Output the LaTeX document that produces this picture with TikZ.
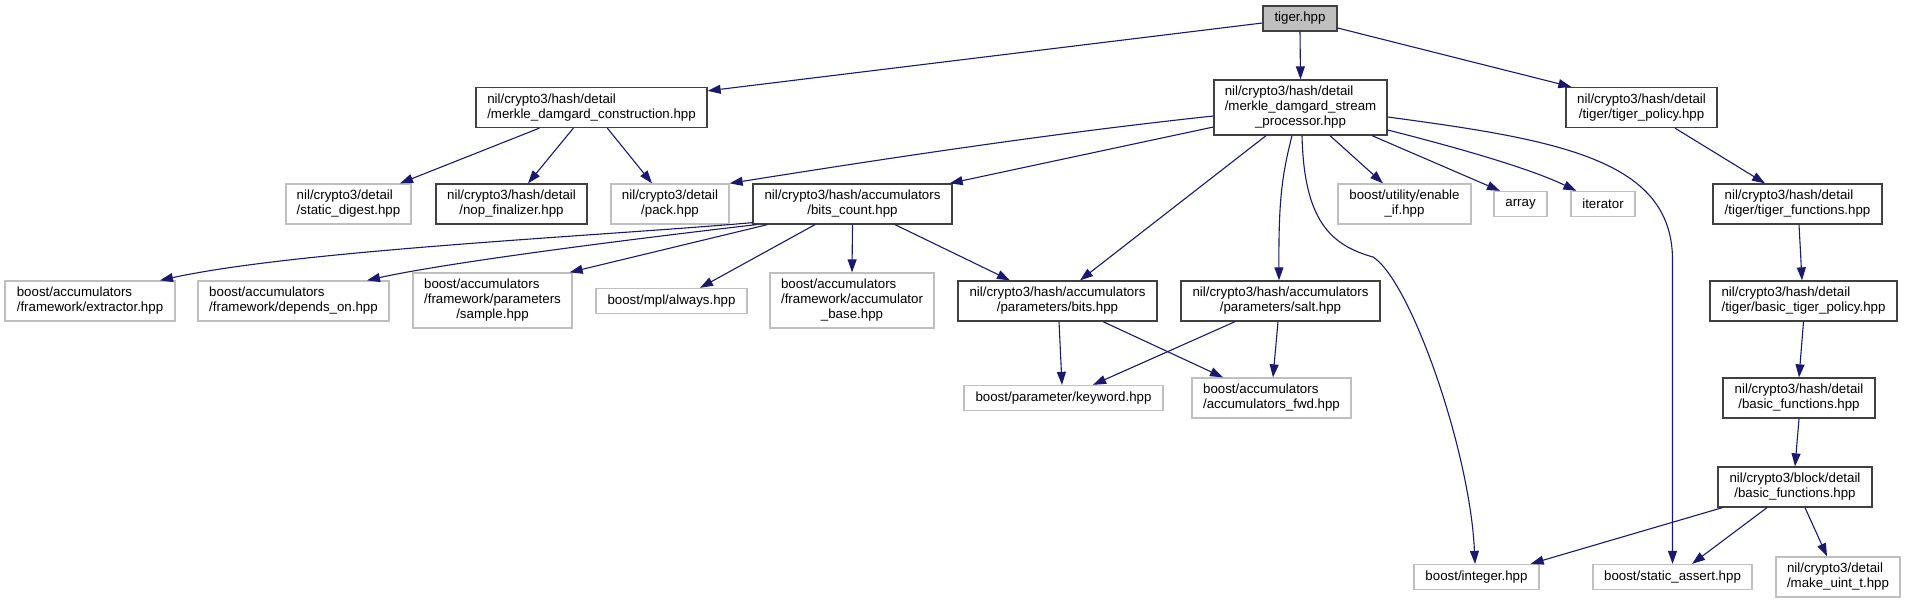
\documentclass[tikz,border=0pt]{standalone}
\usepackage{fontspec}
\setmainfont{Liberation Sans}
\usetikzlibrary{arrows.meta}
\definecolor{edgeblue}{HTML}{191970}
\definecolor{docgray}{HTML}{404040}
\definecolor{extgray}{HTML}{BFBFBF}
\newcommand{\twol}[2]{\begin{tabular}{@{}l@{}}#1\\\multicolumn{1}{@{}c@{}}{#2}\end{tabular}}
\newcommand{\threel}[3]{\begin{tabular}{@{}l@{}}#1\\#2\\\multicolumn{1}{@{}c@{}}{#3}\end{tabular}}
\begin{document}
\begin{tikzpicture}[x=1pt,y=1pt,
  font=\fontsize{13.3}{15}\selectfont,
  box/.style={draw, rectangle, inner sep=0pt, line width=1.3pt, fill=white},
  doc/.style={box, draw=docgray},
  ext/.style={box, draw=extgray},
  root/.style={box, draw=docgray, fill=extgray},
  sz/.style 2 args={minimum width=#1pt, minimum height=#2pt},
  dep/.style={draw=edgeblue, line width=1.1pt, -{Triangle[length=13pt,width=9pt]}}]
\fill[white, use as bounding box] (0,0) rectangle (1905,-603);

% ---- nodes ----
\node[root, sz={74}{25}] (tiger) at (1300,-18.5) {tiger.hpp};
\node[doc, sz={231}{40}] (mdc) at (591.5,-107.5) {\twol{nil/crypto3/hash/detail}{/merkle\_damgard\_construction.hpp}};
\node[doc, sz={173}{55}] (mdsp) at (1300.5,-107.5) {\threel{nil/crypto3/hash/detail}{/merkle\_damgard\_stream}{\_processor.hpp}};
\node[doc, sz={151}{40}] (tpol) at (1641.5,-107.5) {\twol{nil/crypto3/hash/detail}{/tiger/tiger\_policy.hpp}};
\node[ext, sz={125}{40}] (sdig) at (348.5,-204) {\twol{nil/crypto3/detail}{/static\_digest.hpp}};
\node[doc, sz={151}{40}] (nop) at (511.5,-204) {\twol{nil/crypto3/hash/detail}{/nop\_finalizer.hpp}};
\node[ext, sz={118}{40}] (pack) at (670,-204) {\twol{nil/crypto3/detail}{/pack.hpp}};
\node[doc, sz={199}{40}] (bcount) at (852.5,-204) {\twol{nil/crypto3/hash/accumulators}{/bits\_count.hpp}};
\node[ext, sz={133}{40}] (enif) at (1404.5,-204) {\twol{boost/utility/enable}{\_if.hpp}};
\node[ext, sz={53}{25}] (array) at (1520.5,-204) {array};
\node[ext, sz={64}{25}] (iter) at (1603,-204) {iterator};
\node[doc, sz={169}{40}] (tfun) at (1797.5,-204) {\twol{nil/crypto3/hash/detail}{/tiger/tiger\_functions.hpp}};
\node[ext, sz={170}{40}] (extr) at (90,-301) {\twol{boost/accumulators}{/framework/extractor.hpp}};
\node[ext, sz={191}{40}] (depon) at (293.5,-301) {\twol{boost/accumulators}{/framework/depends\_on.hpp}};
\node[ext, sz={159}{55}] (sample) at (492.5,-300.5) {\threel{boost/accumulators}{/framework/parameters}{/sample.hpp}};
\node[ext, sz={151}{25}] (mpl) at (671.5,-301) {boost/mpl/always.hpp};
\node[ext, sz={164}{55}] (accbase) at (852,-300.5) {\threel{boost/accumulators}{/framework/accumulator}{\_base.hpp}};
\node[doc, sz={199}{40}] (bits) at (1057.5,-301) {\twol{nil/crypto3/hash/accumulators}{/parameters/bits.hpp}};
\node[doc, sz={199}{40}] (salt) at (1280.5,-301) {\twol{nil/crypto3/hash/accumulators}{/parameters/salt.hpp}};
\node[doc, sz={187}{40}] (btp) at (1803.5,-301) {\twol{nil/crypto3/hash/detail}{/tiger/basic\_tiger\_policy.hpp}};
\node[ext, sz={199}{25}] (keyword) at (1063.5,-398) {boost/parameter/keyword.hpp};
\node[ext, sz={159}{40}] (accfwd) at (1271.5,-398) {\twol{boost/accumulators}{/accumulators\_fwd.hpp}};
\node[doc, sz={152}{40}] (hbf) at (1799,-398) {\twol{nil/crypto3/hash/detail}{/basic\_functions.hpp}};
\node[doc, sz={154}{40}] (bbf) at (1795,-487) {\twol{nil/crypto3/block/detail}{/basic\_functions.hpp}};
\node[ext, sz={125}{25}] (integer) at (1476.5,-577) {boost/integer.hpp};
\node[ext, sz={159}{25}] (sassert) at (1672.5,-577) {boost/static\_assert.hpp};
\node[ext, sz={124}{40}] (mkuint) at (1838,-577) {\twol{nil/crypto3/detail}{/make\_uint\_t.hpp}};

% ---- edges ----
\draw[dep] ([yshift=-4.5pt]tiger.west) -- ([yshift=-4pt]mdc.north east);
\draw[dep] (tiger.south) -- (mdsp.north);
\draw[dep] ([yshift=-9.5pt]tiger.east) -- ([xshift=6pt]tpol.north west);

\draw[dep] ([xshift=64pt]mdc.south west) -- ([xshift=51.5pt]sdig.north);
\draw[dep] ([xshift=98pt]mdc.south west) -- ([xshift=16.5pt]nop.north);
\draw[dep] ([xshift=132pt]mdc.south west) -- ([xshift=-18pt]pack.north);

\draw[dep] ([yshift=-8.5pt]mdsp.west) .. controls (1054,-133) and (889,-158) .. (pack.north east);
\draw[dep] ([yshift=-19.5pt]mdsp.west) -- ([xshift=-3pt]bcount.north east);
\draw[dep] ([xshift=-34.5pt]mdsp.south) -- ([xshift=22.5pt]bits.north);
\draw[dep] ([xshift=-8.5pt]mdsp.south) .. controls (1282,-175) and (1278.5,-200) .. ([xshift=-1.5pt]salt.north);
\draw[dep] ([xshift=1.5pt]mdsp.south) .. controls (1304,-220) and (1330,-245) .. (1373,-257)
  .. controls (1410,-280) and (1470,-450) .. ([xshift=-1.5pt]integer.north);
\draw[dep] ([xshift=29.5pt]mdsp.south) -- ([xshift=-21.5pt]enif.north);
\draw[dep] ([xshift=71.5pt]mdsp.south) -- ([xshift=-20.5pt]array.north);
\draw[dep] ([yshift=-22.5pt]mdsp.east) .. controls (1447,-145) and (1527,-167) .. ([xshift=6pt]iter.north west);
\draw[dep] ([yshift=-9.5pt]mdsp.east) .. controls (1560,-140) and (1672.5,-160) .. (1672.5,-260) -- (sassert.north);

\draw[dep] ([xshift=33.5pt]tpol.south) -- ([xshift=-32.5pt]tfun.north);
\draw[dep] ([xshift=1.5pt]tfun.south) -- ([xshift=-1.5pt]btp.north);
\draw[dep] (btp.south) -- (hbf.north);
\draw[dep] (hbf.south) -- (bbf.north);
\draw[dep] ([xshift=5pt]bbf.south west) -- ([xshift=-9pt]integer.north east);
\draw[dep] ([xshift=-28pt]bbf.south) -- ([xshift=19.5pt]sassert.north);
\draw[dep] ([xshift=10pt]bbf.south) -- ([xshift=-11pt]mkuint.north);

\draw[dep] ([yshift=2pt]bcount.south west) .. controls (600,-236) and (300,-250) .. ([xshift=70pt]extr.north);
\draw[dep] ([xshift=4pt]bcount.south west) .. controls (640,-238) and (450,-262) .. ([xshift=73.5pt]depon.north);
\draw[dep] ([xshift=15pt]bcount.south west) -- ([xshift=-3pt]sample.north east);
\draw[dep] ([xshift=-37.5pt]bcount.south) -- ([xshift=28.5pt]mpl.north);
\draw[dep] (bcount.south) -- (accbase.north);
\draw[dep] ([xshift=42.5pt]bcount.south) -- ([xshift=-47.5pt]bits.north);

\draw[dep] ([xshift=1.5pt]bits.south) -- ([xshift=-1.5pt]keyword.north);
\draw[dep] ([xshift=45.5pt]bits.south) -- ([xshift=-48.5pt]accfwd.north);
\draw[dep] ([xshift=-45.5pt]salt.south) -- ([xshift=29.5pt]keyword.north);
\draw[dep] ([xshift=-2.5pt]salt.south) -- ([xshift=1.5pt]accfwd.north);
\end{tikzpicture}
\end{document}
